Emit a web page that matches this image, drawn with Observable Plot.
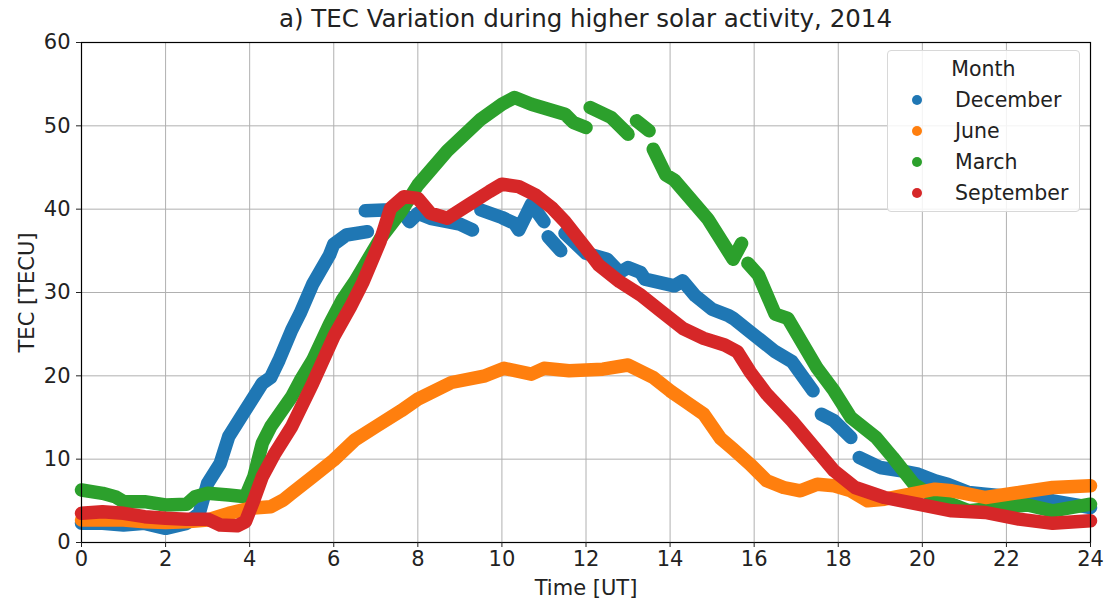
<!DOCTYPE html>
<html>
<head>
<meta charset="utf-8">
<script src="https://cdn.jsdelivr.net/npm/d3@7"></script>
<script src="https://cdn.jsdelivr.net/npm/@observablehq/plot@0.6"></script>
<style>
  html, body { margin: 0; padding: 0; background: #fff; }
  #wrap { position: relative; width: 1104px; height: 601px; font-family: "DejaVu Sans", sans-serif; color: #222; }
  #title { position: absolute; left: 81px; width: 1009px; top: 4px; text-align: center; font-size: 24.5px; }
  #legend { position: absolute; left: 887px; top: 50px; width: 193px; height: 162px; box-sizing: border-box;
            border: 1px solid #d8d8d8; border-radius: 4px; background: rgba(255,255,255,0.85); }
  #legend .ttl { position: absolute; left: 0; width: 100%; top: 6px; text-align: center; font-size: 20.5px; }
  #legend .row { position: absolute; left: 0; font-size: 20.5px; height: 24px; line-height: 24px; }
  #legend .dot { position: absolute; left: 24px; top: 7px; width: 10px; height: 10px; border-radius: 50%; }
  #legend .lab { position: absolute; left: 67px; white-space: nowrap; }
</style>
</head>
<body>
<div id="wrap">
  <div id="chart"></div>
  <div id="title">a) TEC Variation during higher solar activity, 2014</div>
  <div id="legend"></div>
</div>
<script>
// Months (legend order) and colours
const months = ["December", "June", "March", "September"];
const colors = ["#1f77b4", "#ff7f0e", "#2ca02c", "#d62728"];
const xTicks = [0, 2, 4, 6, 8, 10, 12, 14, 16, 18, 20, 22, 24];
const yTicks = [0, 10, 20, 30, 40, 50, 60];

// December (null = gap)
const decT = [0, 0.5, 1, 1.5, 2, 2.5, 2.8, 3, 3.3, 3.5, 3.8, 4, 4.3, 4.5, 4.7, 5, 5.2, 5.5, 5.9, 6.0, 6.3, 6.8, null,
  6.75, 7.2, 7.6, 7.8, 8.0, 8.3, 8.7, 9.0, 9.3, null, 9.5, 10.0, 10.3, 10.4, 10.7, 11.0, null, 11.1, 11.4, null,
  11.5, 12.0, 12.5, 12.8, 13.0, 13.3, 13.4, 14.1, 14.3, 14.6, 15.0, 15.4, 15.5, 15.9, 16.5, 16.9, 17.4, null,
  17.6, 17.9, 18.3, null, 18.5, 19.0, 19.5, 19.9, 20.3, 20.6, 21.1, 21.5, 22.3, 23.1, 24];
const decV = [2.3, 2.3, 2.1, 2.3, 1.7, 2.3, 3.5, 7.1, 9.5, 12.7, 15.1, 16.7, 19.1, 19.8, 21.9, 25.5, 27.5, 31.0, 34.5, 35.8, 36.9, 37.3, null,
  39.8, 39.9, 39.9, 38.5, 39.5, 38.9, 38.5, 38.2, 37.5, null, 39.9, 39.0, 38.3, 37.5, 40.6, 38.5, null, 36.7, 35.0, null,
  37.1, 34.7, 34.0, 32.4, 33.0, 32.4, 31.6, 30.8, 31.4, 29.6, 28.0, 27.2, 26.9, 25.3, 22.9, 21.7, 18.2, null,
  15.4, 14.6, 12.6, null, 10.2, 9.0, 8.6, 8.2, 7.4, 7.0, 6.0, 5.8, 5.4, 5.0, 4.2];

// June
const junT = [0, 0.5, 1, 1.5, 2, 2.5, 3, 3.5, 4, 4.5, 4.8, 5, 5.5, 6, 6.5, 7, 7.6, 8, 8.8, 9.6, 10.05, 10.7, 11, 11.6,
  12.4, 13, 13.6, 14, 14.4, 14.8, 15.2, 15.5, 15.9, 16.3, 16.7, 17.1, 17.5, 17.9, 18.3, 18.7, 19.1, 19.5, 19.9,
  20.3, 20.7, 21.1, 21.5, 22.3, 23.1, 24];
const junV = [2.7, 2.7, 2.7, 2.5, 2.4, 2.5, 2.7, 3.5, 4.1, 4.3, 5.1, 5.9, 7.9, 9.9, 12.3, 13.9, 15.8, 17.2, 19.2, 20.0, 20.9, 20.2, 20.9, 20.6,
  20.8, 21.3, 19.8, 18.2, 16.8, 15.4, 12.5, 11.2, 9.4, 7.4, 6.6, 6.2, 7.0, 6.8, 6.2, 5.0, 5.2, 5.6, 6.0,
  6.4, 6.2, 5.8, 5.4, 6.0, 6.6, 6.8];

// March
const marT = [0, 0.5, 0.8, 1, 1.5, 2, 2.5, 2.7, 3, 3.5, 3.9, 4.1, 4.3, 4.5, 5.0, 5.2, 5.5, 5.9, 6.2, 6.5, 7.1, 7.6, 8.0,
  8.7, 9.5, 10.0, 10.3, 10.7, 11.5, 11.7, 12.0, null, 12.1, 12.6, 13.0, null, 13.2, 13.5, null, 13.6, 13.9, 14.1,
  14.9, 15.5, 15.7, null, 15.85, 16.1, 16.5, 16.8, 17.5, 17.9, 18.3, 18.9, 19.3, 19.8, 20.3, 21.1, 21.9, 22.5, 23.1, 24];
const marV = [6.3, 5.9, 5.5, 4.9, 4.9, 4.5, 4.6, 5.5, 5.9, 5.7, 5.5, 7.9, 11.9, 13.9, 17.5, 19.4, 21.9, 26.2, 29.1, 31.3, 36.4, 39.7, 42.9,
  47.0, 50.8, 52.6, 53.4, 52.6, 51.4, 50.4, 49.8, null, 52.2, 51.0, 49.0, null, 50.6, 49.4, null, 47.2, 44.1, 43.5,
  38.8, 34.0, 35.9, null, 33.5, 32.1, 27.4, 26.9, 20.9, 18.2, 15.0, 12.6, 10.2, 7.0, 5.4, 3.8, 4.2, 4.5, 3.8, 4.6];

// September
const sepT = [0, 0.5, 1, 1.5, 2, 2.5, 3, 3.3, 3.7, 3.9, 4.1, 4.3, 4.6, 5.0, 5.5, 6.0, 6.4, 6.7, 7.1, 7.35, 7.67, 8.0,
  8.3, 8.7, 9.2, 9.7, 10.0, 10.4, 10.8, 11.2, 11.5, 12.0, 12.3, 12.8, 13.3, 13.8, 14.3, 14.8, 15.3, 15.6, 15.9,
  16.3, 16.9, 17.5, 17.9, 18.4, 19.1, 19.9, 20.7, 21.5, 22.3, 23.1, 24];
const sepV = [3.5, 3.7, 3.5, 3.1, 2.9, 2.8, 2.8, 2.1, 2.0, 2.5, 5.1, 7.9, 10.7, 13.9, 19.1, 24.7, 28.3, 31.3, 36.1, 40.1, 41.5, 41.3,
  39.5, 38.9, 40.5, 42.1, 43.0, 42.7, 41.7, 40.1, 38.5, 35.3, 33.3, 31.3, 29.7, 27.7, 25.7, 24.5, 23.7, 22.9, 20.5,
  17.8, 14.6, 11.0, 8.6, 6.6, 5.4, 4.6, 3.8, 3.6, 2.8, 2.3, 2.6];

const seriesT = {December: decT, June: junT, March: marT, September: sepT};
const seriesV = {December: decV, June: junV, March: marV, September: sepV};
const drawOrder = ["December", "March", "June", "September"];

const rows = [];
for (const m of drawOrder) {
  const T = seriesT[m], V = seriesV[m];
  for (let i = 0; i < T.length; i++) rows.push({month: m, t: T[i], v: V[i]});
}

const chart = Plot.plot({
  width: 1104,
  height: 601,
  marginLeft: 81,
  marginRight: 14,
  marginTop: 42,
  marginBottom: 59,
  style: {fontFamily: "DejaVu Sans, sans-serif", fontSize: "21px", color: "#222", background: "#fff"},
  x: {domain: [0, 24]},
  y: {domain: [0, 60]},
  color: {domain: months, range: colors},
  marks: [
    Plot.gridX(xTicks, {stroke: "#b0b0b0", strokeOpacity: 1, strokeWidth: 1}),
    Plot.gridY(yTicks, {stroke: "#b0b0b0", strokeOpacity: 1, strokeWidth: 1}),
    Plot.line(rows, {x: "t", y: "v", z: "month", stroke: "month", strokeWidth: 13.5,
      strokeLinecap: "round", strokeLinejoin: "round"}),
    Plot.frame({stroke: "#000", strokeWidth: 1.2}),
    Plot.axisX(xTicks, {tickSize: 5, tickPadding: 4, label: "Time [UT]", labelAnchor: "center",
      labelArrow: "none", labelOffset: 52, fontSize: 21}),
    Plot.axisY(yTicks, {tickSize: 5, tickPadding: 6, label: "TEC [TECU]", labelAnchor: "center",
      labelArrow: "none", labelOffset: 62, fontSize: 21})
  ]
});
document.getElementById("chart").appendChild(chart);

// Legend
const leg = document.getElementById("legend");
const ttl = document.createElement("div");
ttl.className = "ttl"; ttl.textContent = "Month";
leg.appendChild(ttl);
months.forEach((m, i) => {
  const row = document.createElement("div");
  row.className = "row";
  row.style.top = (37 + i * 31) + "px";
  const d = document.createElement("span");
  d.className = "dot"; d.style.background = colors[i];
  const l = document.createElement("span");
  l.className = "lab"; l.textContent = m;
  row.appendChild(d); row.appendChild(l);
  leg.appendChild(row);
});
</script>
</body>
</html>
